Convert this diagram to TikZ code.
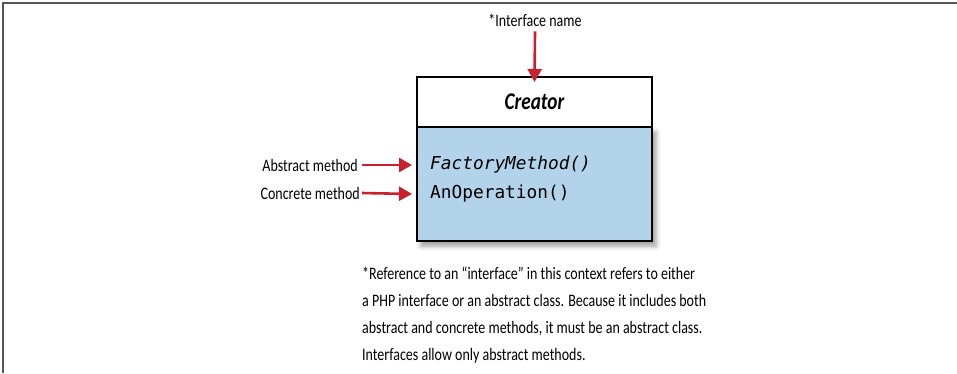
\documentclass[tikz,border=0pt]{standalone}
\usepackage{fontspec}
\usepackage{xcolor}
\usetikzlibrary{arrows.meta,positioning,shadows.blur}
\setmainfont[FakeStretch=0.8]{Carlito}
\newfontfamily\codefont{DejaVu Sans Mono}

\definecolor{notered}{RGB}{200,32,46}
\definecolor{boxblue}{RGB}{178,211,234}
\definecolor{framegray}{RGB}{85,85,85}

\tikzset{
    notetext/.style={inner sep=0pt, font=\fontsize{17.5}{27}\selectfont},
    notearrow/.style={draw=notered, line width=2.6pt, -{Triangle[length=13pt,width=14pt]}},
    classpart/.style={draw=black, line width=2.8pt, minimum width=235pt, inner sep=0pt, outer sep=0pt},
}

\begin{document}
\begin{tikzpicture}[x=1pt, y=-1pt]
        \useasboundingbox (0,0) rectangle (957,373);
        % frame
        \draw[framegray, line width=1.6pt] (3,373) -- (3,3) -- (957,3);

        % class box
        \node[classpart, minimum height=114pt, fill=boxblue,
              blur shadow={shadow xshift=4pt, shadow yshift=-5pt, shadow blur radius=5pt}]
              (methods) at (534.5,184) {};
        \node[classpart, minimum height=50pt, fill=white, anchor=south] (creator) at (methods.north)
              {\fontsize{24}{28}\selectfont\bfseries\itshape Creator};
        \node[inner sep=0pt, anchor=west, font=\codefont\fontsize{17.8}{20}\selectfont] (factory) at (430,165) {\itshape FactoryMethod()};
        \node[inner sep=0pt, anchor=west, font=\codefont\fontsize{17.8}{20}\selectfont] (operation) at (430,194) {AnOperation()};

        % labels
        \node[notetext] (iname) at (535,20) {*Interface name};
        \node[notetext, anchor=east] (abstract) at (358,165) {Abstract method};
        \node[notetext, anchor=east] (concrete) at (360,193) {Concrete method};

        \draw[notearrow] (iname.south) ++(0,5) coordinate (inamebot) (inamebot) -- ([yshift=-5pt]creator.north);
        \draw[notearrow] ([xshift=4pt]abstract.east) -- ([xshift=-5pt]factory.west -| methods.west);
        \draw[notearrow] ([xshift=2pt]concrete.east) -- ([xshift=-5pt]operation.west -| methods.west);

        % footnote
        \node[notetext, anchor=north west, align=left] (footnote) at (362,267)
            {*Reference to an “interface” in this context refers to either\\
             a PHP interface or an abstract class. Because it includes both\\
             abstract and concrete methods, it must be an abstract class.\\
             Interfaces allow only abstract methods.};
    \end{tikzpicture}
\end{document}
